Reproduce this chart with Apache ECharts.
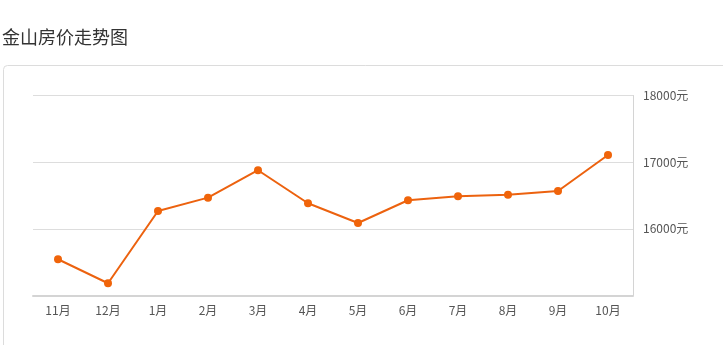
<!DOCTYPE html>
<html>
<head>
<meta charset="utf-8">
<script src="https://cdn.jsdelivr.net/npm/echarts@6/dist/echarts.min.js"></script>
<style>
html,body{margin:0;padding:0;background:#fff;}
#chart{width:723px;height:345px;}
</style>
</head>
<body>
<div id="chart"></div>
<script>
const titleText = '金山房价走势图';
const months = ['11月','12月','1月','2月','3月','4月','5月','6月','7月','8月','9月','10月'];
const prices = [15544,15184,16268,16468,16879,16384,16088,16429,16489,16513,16568,17108];
const yTicks = [15000,16000,17000,18000];
const unit = '元';

const chart = echarts.init(document.getElementById('chart'), null, {renderer:'canvas'});
chart.setOption({
  animation:false,
  backgroundColor:'#fff',
  title:{
    text:titleText, left:2, top:28, padding:0,
    textStyle:{fontFamily:'"Noto Sans CJK SC", sans-serif', fontSize:18, fontWeight:'normal', color:'#333'}
  },
  graphic:[{
    type:'rect', left:3, top:65, z:-1,
    shape:{width:740, height:300, r:4},
    style:{fill:'#fff', stroke:'#dcdcdc', lineWidth:1}
  }],
  grid:{left:33, right:90, top:95.5, bottom:49.5, containLabel:false},
  xAxis:{
    type:'category', data:months, boundaryGap:true,
    axisLine:{lineStyle:{color:'#d4d4d4', width:2}},
    axisTick:{alignWithLabel:true, length:4, lineStyle:{color:'#d4d4d4'}},
    axisLabel:{color:'#555', fontSize:12, margin:9, fontFamily:'"Noto Sans CJK SC", sans-serif'}
  },
  yAxis:{
    type:'value', position:'right', min:yTicks[0], max:yTicks[yTicks.length-1], interval:1000,
    axisLine:{show:true, lineStyle:{color:'#d4d4d4', width:1}},
    axisTick:{show:false},
    splitLine:{lineStyle:{color:'#dddddd'}},
    axisLabel:{color:'#555', fontSize:12, margin:10, showMinLabel:false,
      fontFamily:'"Noto Sans CJK SC", sans-serif',
      formatter:v => v + unit}
  },
  series:[{
    type:'line', data:prices,
    symbol:'circle', symbolSize:8,
    lineStyle:{color:'#ec620f', width:2},
    itemStyle:{color:'#f0640a'}
  }]
});
</script>
</body>
</html>
